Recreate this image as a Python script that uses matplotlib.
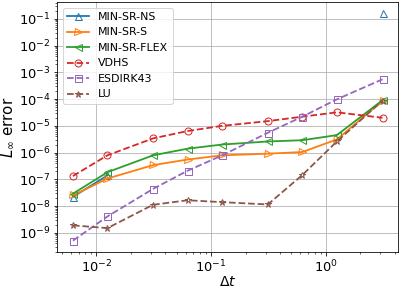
import numpy as np
import matplotlib
matplotlib.use('Agg')
import matplotlib.pyplot as plt
from matplotlib.ticker import LogLocator

# step sizes
dt = [0.00625, 0.0125, 0.03125, 0.0625, 0.125, 0.3125, 0.625, 1.25, 3.125]

# errors (nan = no point)
nan = np.nan
err_ns = [2.2e-8, 1.4e-7, nan, nan, nan, nan, nan, nan, 0.16]
err_s = [2.5e-8, 1.07e-7, 3.4e-7, 5.5e-7, 7.9e-7, 9.1e-7, 1.05e-6, 3.1e-6, 8.5e-5]
err_flex = [2.9e-8, 1.85e-7, 7.9e-7, 1.4e-6, 2.0e-6, 2.6e-6, 2.9e-6, 4.5e-6, 9.1e-5]
err_vdhs = [1.33e-7, 7.9e-7, 3.4e-6, 6.4e-6, 1.0e-5, 1.5e-5, 2.2e-5, 3.2e-5, 2.0e-5]
err_esdirk = [5.1e-10, 4.1e-9, 4.4e-8, 2.1e-7, 7.9e-7, 5.5e-6, 2.2e-5, 9.8e-5, 5.5e-4]
err_lu = [1.9e-9, 1.5e-9, 1.12e-8, 1.65e-8, 1.4e-8, 1.15e-8, 1.45e-7, 2.6e-6, 8.8e-5]

fig = plt.figure(figsize=(399/72, 289/72), dpi=72)
ax = fig.add_axes([0.144, 0.128, 0.8535, 0.865])

kw = dict(mfc='none', ms=7, lw=1.8)
ax.loglog(dt, err_ns, '-^', color='C0', label='MIN-SR-NS', **kw)
ax.loglog(dt, err_s, '->', color='C1', label='MIN-SR-S', **kw)
ax.loglog(dt, err_flex, '-<', color='C2', label='MIN-SR-FLEX', **kw)
ax.loglog(dt, err_vdhs, '--o', color='C3', label='VDHS', **kw)
ax.loglog(dt, err_esdirk, '--s', color='C4', label='ESDIRK43', **kw)
ax.loglog(dt, err_lu, '--*', color='C5', label='LU', **kw)

ax.yaxis.set_major_locator(LogLocator(base=10, numticks=20))
ax.yaxis.set_minor_locator(LogLocator(base=10, subs=np.arange(2, 10), numticks=20))
ax.tick_params(labelsize=13)
ax.grid(True)
ax.set_xlabel(r'$\Delta t$', fontsize=14, labelpad=-1)
ax.set_ylabel(r'$L_\infty$ error', fontsize=15, labelpad=3)
ax.legend(loc='upper left', fontsize=11)

fig.savefig('out.png', dpi=72)
